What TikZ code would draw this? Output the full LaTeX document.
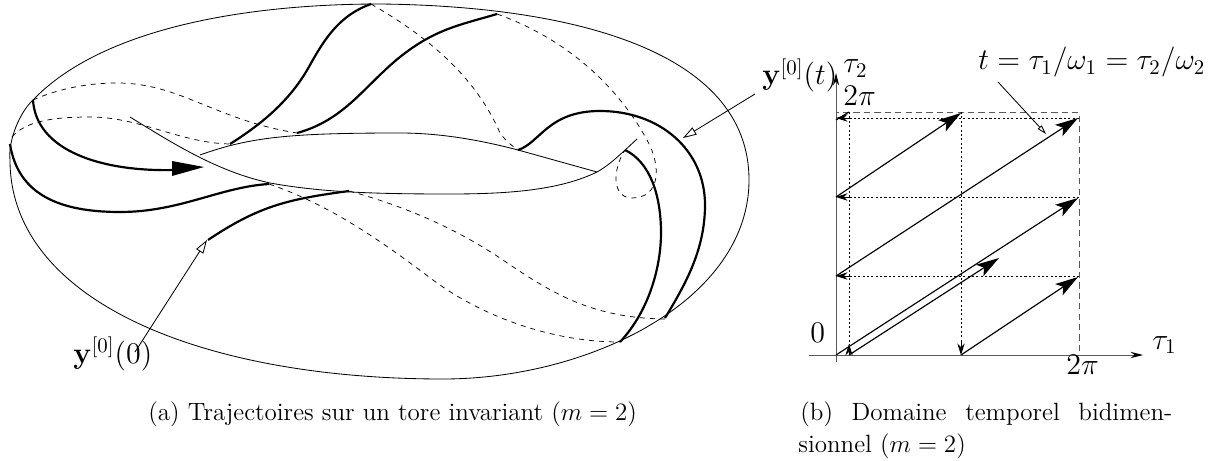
\RequirePackage{fix-cm}
\documentclass[tikz,border=0pt]{standalone}
\usepackage{amsmath}
\usetikzlibrary{arrows.meta}
\tikzset{
 x=0.48pt,y=-0.48pt,
 thin line/.style={line width=0.4pt},
 thick line/.style={line width=1.05pt},
 dash line/.style={line width=0.35pt,dash pattern=on 2.4pt off 2.4pt},
 dot line/.style={line width=0.4pt,dash pattern=on 1pt off 1.1pt},
 dot tip/.style={line width=0.4pt,-{Stealth[length=5.5pt,width=3.5pt]}},
 box line/.style={line width=0.4pt,dash pattern=on 3pt off 2pt,gray!70!black},
 axis line/.style={line width=0.45pt,gray!70!black,-{Stealth[length=6pt,width=3pt,black]}},
 traj/.style={line width=0.55pt,-{Stealth[length=11pt,width=6.5pt,inset=2.5pt]}},
 pointer/.style={line width=0.4pt,-{Triangle[open,length=6.5pt,width=4pt,fill=white]}},
 small pointer/.style={line width=0.4pt,-{Triangle[open,length=4.5pt,width=2.5pt,fill=white]}},
 label/.style={inner sep=0pt,anchor=base west,font=\fontsize{14.4}{17}\selectfont},
 caption/.style={inner sep=0pt,anchor=base west,font=\fontsize{12}{14}\selectfont},
}
\begin{document}
\begin{tikzpicture}
\useasboundingbox (0,0) rectangle (1217,461);
% outer contour
\draw[thin line] (33,100) .. controls (100,30) and (240,4) .. (380,4)
 .. controls (570,6) and (749,50) .. (749,180)
 .. controls (749,300) and (590,379) .. (443,379)
 .. controls (200,379) and (10,300) .. (10,160)
 .. controls (8,140) and (20,112) .. (33,100);
% inner lips
\draw[thin line] (200,155) .. controls (250,137) and (290,133) .. (400,133)
 .. controls (440,133) and (480,140) .. (518,150) -- (597,172);
\draw[thin line] (130,117) .. controls (180,148) and (220,172) .. (270,183)
 .. controls (320,192) and (370,194) .. (450,194)
 .. controls (510,194) and (560,190) .. (597,172)
 .. controls (610,165) and (625,150) .. (637,139);
% dashed
\draw[dash line] (33,100) .. controls (60,88) and (90,83) .. (117,83) .. controls (180,83) and (215,120) .. (297,133);
\draw[dash line] (12,137) .. controls (25,122) and (50,117) .. (90,117) .. controls (140,117) and (180,143) .. (230,144);
\draw[dash line] (371,4) .. controls (425,35) and (475,75) .. (500,133) .. controls (505,140) and (512,146) .. (518,150);
\draw[dash line] (497,14) .. controls (570,40) and (620,90) .. (647,140) .. controls (662,167) and (660,198) .. (632,198) .. controls (612,198) and (612,170) .. (625,150);
\draw[dash line] (269,184) .. controls (330,205) and (380,240) .. (433,280) .. controls (480,315) and (550,342) .. (620,342);
\draw[dash line] (349,191) .. controls (400,205) and (450,225) .. (500,258) .. controls (550,292) and (590,318) .. (665,319);
% thick
\draw[thick line] (33,100) .. controls (36,150) and (100,172) .. (175,170);
\fill (172,161) -- (204,167) -- (172,176) -- cycle;
\draw[thick line] (10,144) .. controls (18,195) and (60,212) .. (120,212) .. controls (180,212) and (220,187) .. (269,184);
\draw[thick line] (208,240) .. controls (260,205) and (290,199) .. (349,191);
\draw[thick line] (230,144) .. controls (265,122) and (292,98) .. (310,65) .. controls (325,38) and (340,15) .. (371,4);
\draw[thick line] (297,133) .. controls (345,120) and (365,85) .. (400,57) .. controls (435,29) and (460,25) .. (497,14);
\draw[thick line] (518,150) .. controls (540,143) and (548,111) .. (600,111) .. controls (660,111) and (705,150) .. (705,205) .. controls (705,250) and (685,285) .. (665,318);
\draw[thick line] (625,150) .. controls (650,162) and (661,195) .. (661,233) .. controls (661,265) and (650,310) .. (620,342);
% pointers and labels left
\node[label] (y0) at (73,363) {$\mathbf{y}^{[0]}(0)$};
\coordinate (y0from) at (135,352);
\coordinate (y0to) at (207,240);
\draw[pointer] (y0from) -- (y0to);
\node[label] (yt) at (762,85) {$\mathbf{y}^{[0]}(t)$};
\coordinate (ytfrom) at (755,94);
\coordinate (ytto) at (683,138);
\draw[pointer] (ytfrom) -- (ytto);
% right panel axes
\coordinate (xs) at (809,355); \coordinate (xe) at (1143,355);
\coordinate (ys) at (836,362); \coordinate (ye) at (836,73);
\draw[axis line] (xs) -- (xe);
\draw[axis line] (ys) -- (ye);
\draw[box line] (836,355) rectangle (1079,112);
% dotted
\draw[dot line] (1079,118) -- (849,118);
\draw[dot tip] (849,118) -- (836,118);
\draw[dot line] (1079,197) -- (849,197);
\draw[dot tip] (849,197) -- (836,197);
\draw[dot line] (1079,276) -- (849,276);
\draw[dot tip] (849,276) -- (836,276);
\draw[dot line] (961,112) -- (961,342);
\draw[dot tip] (961,342) -- (961,355);
\draw[dot line] (849,112) -- (849,344);
\draw[dot tip] (849,355) -- (849,344);
% solid
\draw[traj] (836,355) -- (1078,198);
\draw[traj] (849,355) -- (999,258);
\draw[traj] (961,355) -- (1078,277);
\draw[traj] (836,276) -- (1078,118);
\draw[traj] (836,197) -- (961,113);
\draw[line width=0.55pt] (836,120) -- (849,112);
\coordinate (tfrom) at (998,82);
\coordinate (tto) at (1046,134);
\draw[small pointer] (tfrom) -- (tto);
% labels
\node[label] (tau2) at (843,73) {$\tau_2$};
\node[label] (tp) at (843,106) {$2\pi$};
\node[label] (zero) at (810,342) {$0$};
\node[label] (bp) at (1066,374) {$2\pi$};
\node[label] (tau1) at (1152,349) {$\tau_1$};
\node[label] (teq) at (978,70) {$t=\tau_1/\omega_1=\tau_2/\omega_2$};
\node[caption] (capa) at (148,420) {(a) Trajectoires sur un tore invariant ($m=2$)};
\node[caption] (capb) at (800,420) {\makebox[178.5pt][s]{(b)\hfil\ Domaine\hfil\ temporel\hfil\ bidimen-}};
\node[caption] (capc) at (798,452) {sionnel ($m=2$)};
\end{tikzpicture}
\end{document}
